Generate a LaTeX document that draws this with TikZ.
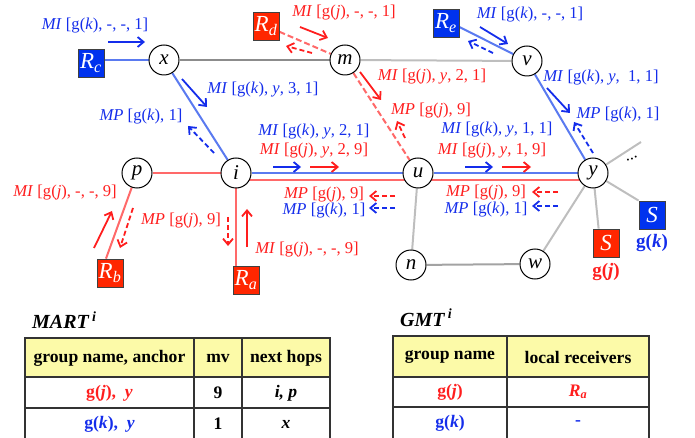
\documentclass[tikz,border=0pt]{standalone}
\usepackage{fontspec}
\setmainfont{Liberation Serif}
\usetikzlibrary{arrows.meta,backgrounds}

\definecolor{rtxt}{RGB}{255,30,30}
\definecolor{btxt}{RGB}{20,45,235}
\definecolor{rfill}{RGB}{255,38,0}
\definecolor{bfill}{RGB}{0,50,238}
\definecolor{rline}{RGB}{255,105,105}
\definecolor{bline}{RGB}{90,122,240}
\definecolor{gline}{RGB}{140,140,140}
\definecolor{lgline}{RGB}{190,190,190}
\definecolor{thead}{RGB}{252,250,168}

\tikzset{
  vtx/.style={circle, draw=black, fill=white, line width=1pt, minimum size=30pt,
    inner sep=0pt, font=\fontsize{21}{21}\selectfont\itshape},
  sq/.style={draw=black!75, line width=0.8pt, minimum width=26pt, minimum height=28pt,
    inner sep=0pt, text=white, font=\fontsize{23}{23}\selectfont\itshape},
  rsq/.style={sq, fill=rfill},
  bsq/.style={sq, fill=bfill},
  lbl/.style={inner sep=0pt, font=\fontsize{16.6}{16.6}\selectfont},
  rl/.style={lbl, text=rtxt},
  bl/.style={lbl, text=btxt},
  edge/.style={line width=2pt},
  mi/.style={line width=1.8pt, -{Straight Barb[length=6pt,width=10pt,line width=1.8pt]}},
  mp/.style={mi, dash pattern=on 5pt off 3pt},
  cell/.style={inner sep=0pt, font=\fontsize{17.6}{17.6}\selectfont\bfseries},
  ttl/.style={inner sep=0pt, font=\fontsize{20}{20}\selectfont\bfseries\itshape},
  tbl/.style={draw=black!80, line width=1.2pt},
  grp/.style={inner sep=0pt, font=\fontsize{19}{19}\selectfont\bfseries},
}

\begin{document}
\begin{tikzpicture}[x=1pt, y=-1pt]
\useasboundingbox (0,0) rectangle (695,438);

% routers
\node[vtx] (x) at (164,60) {x};
\node[vtx] (m) at (345,60) {m};
\node[vtx] (v) at (527,61) {v};
\node[vtx] (p) at (137,173) {p};
\node[vtx] (i) at (236,173) {i};
\node[vtx] (u) at (418,173) {u};
\node[vtx] (y) at (593,173) {y};
\node[vtx] (n) at (411,265) {n};
\node[vtx] (w) at (535,264) {w};

% receivers and sources
\node[bsq] (Rc) at (91,63) {R\textsubscript{c}};
\node[rsq] (Rd) at (266,26) {R\textsubscript{d}};
\node[bsq] (Re) at (446,23) {R\textsubscript{e}};
\node[rsq] (Rb) at (110,273) {R\textsubscript{b}};
\node[rsq] (Ra) at (246,280) {R\textsubscript{a}};
\node[rsq] (Sj) at (606,243) {S};
\node[bsq] (Sk) at (652,215) {S};
\node[grp, text=rtxt] (gj) at (606,272) {g(\textit{j})};
\node[grp, text=btxt] (gk) at (652,243) {g(\textit{k})};
\coordinate (more) at (641,142);
\node[lbl, rotate=20] (dots) at (632,159) {...};

% links
\begin{scope}[on background layer]
  \draw[edge, gline] (x) -- (m);
  \draw[edge, lgline] (m) -- (v);
  \draw[edge, lgline] (u) -- (n);
  \draw[edge, gline!80] (n) -- (w);
  \draw[edge, lgline] (w) -- (y);
  \draw[edge, lgline] (y) -- ([xshift=6pt]Sj.north west);
  \draw[edge, lgline] (y) -- (Sk.north west);
  \draw[edge, lgline] (y) -- (more);
  \draw[edge, bline] (Rc.east |- x) -- (x);
  \draw[edge, bline] (x) -- (i);
  \draw[edge, bline] ([yshift=-4pt]Re.east) -- (v);
  \draw[edge, bline] (v) -- (y);
  \draw[edge, rline] (p) -- (i);
  \draw[edge, rline] ([xshift=-4pt]Rb.north) -- (p);
  \draw[edge, rline] (i) -- (i |- Ra.north);
  \draw[edge, rline] ([yshift=-7pt]i.center) -- ([yshift=-7pt]y.center);
  \draw[edge, bline] (i) -- (u);
  \draw[edge, bline] (u) -- (y);
  \draw[edge, rline, dash pattern=on 6pt off 3pt] (Rd) -- (m);
  \draw[edge, rline, dash pattern=on 6pt off 3pt] (m) -- (u);
\end{scope}

% messages of group g(k)
\node[bl] (l1) at (95,26) {\textit{MI} [g(\textit{k}), -, -, 1]};
\draw[mi, btxt] (108,42) -- (145,42);
\node[bl] (l2) at (263,90) {\textit{MI} [g(\textit{k}), \textit{y}, 3, 1]};
\draw[mi, btxt] (182,79) -- (207,107);
\node[bl] (l3) at (141,117) {\textit{MP} [g(\textit{k}), 1]};
\draw[mp, btxt] (214,153) -- (188,126);
\node[bl] (l4) at (530,15) {\textit{MI} [g(\textit{k}), -, -, 1]};
\draw[mi, btxt] (480,27) -- (508,44);
\draw[mp, btxt] (493,53) -- (468,41);
\node[bl] (l5) at (601,78) {\textit{MI} [g(\textit{k}), \textit{y}, \ 1, 1]};
\draw[mi, btxt] (547,88) -- (570,113);
\node[bl] (l6) at (618,115) {\textit{MP} [g(\textit{k}), 1]};
\draw[mp, btxt] (593,153) -- (574,122);
\node[bl] (l7) at (314,132) {\textit{MI} [g(\textit{k}), \textit{y}, 2, 1]};
\draw[mi, btxt] (273,167) -- (301,167);
\node[bl] (l8) at (497,130) {\textit{MI} [g(\textit{k}), \textit{y}, 1, 1]};
\draw[mi, btxt] (465,167) -- (493,167);
\node[bl] (l9) at (324,211) {\textit{MP} [g(\textit{k}), 1]};
\draw[mp, btxt] (395,208) -- (369,208);
\node[bl] (l10) at (486,210) {\textit{MP} [g(\textit{k}), 1]};
\draw[mp, btxt] (558,206) -- (532,206);

% messages of group g(j)
\node[rl] (r1) at (344,13) {\textit{MI} [g(\textit{j}), -, -, 1]};
\draw[mi, rtxt] (300,27) -- (328,38);
\draw[mp, rtxt] (312,53) -- (286,46);
\node[rl] (r2) at (432,77) {\textit{MI} [g(\textit{j}), \textit{y}, 2, 1]};
\draw[mi, rtxt] (360,72) -- (381,100);
\node[rl] (r3) at (431,111) {\textit{MP} [g(\textit{j}), 9]};
\draw[mp, rtxt] (405,138) -- (397,121);
\node[rl] (r4) at (314,151) {\textit{MI} [g(\textit{j}), \textit{y}, 2, 9]};
\draw[mi, rtxt] (310,167) -- (339,167);
\node[rl] (r5) at (492,151) {\textit{MI} [g(\textit{j}), \textit{y}, 1, 9]};
\draw[mi, rtxt] (502,167) -- (531,167);
\node[rl] (r6) at (324,195) {\textit{MP} [g(\textit{j}), 9]};
\draw[mp, rtxt] (395,196) -- (369,196);
\node[rl] (r7) at (486,193) {\textit{MP} [g(\textit{j}), 9]};
\draw[mp, rtxt] (558,192) -- (532,192);
\node[rl] (r8) at (65,193) {\textit{MI} [g(\textit{j}), -, -, 9]};
\draw[mi, rtxt] (94,248) -- (112,211);
\draw[mp, rtxt] (133,208) -- (120,248);
\node[rl] (r9) at (181,221) {\textit{MP} [g(\textit{j}), 9]};
\draw[mp, rtxt] (228,217) -- (228,246);
\draw[mi, rtxt] (247,247) -- (247,209);
\node[rl] (r10) at (307,250) {\textit{MI} [g(\textit{j}), -, -, 9]};

% forwarding table of router i
\node[ttl, anchor=west] (mart) at (32,320) {MART\,\textsuperscript{\fontsize{14}{14}\selectfont i}};
\fill[thead] (25,338) rectangle (330,377);
\draw[tbl] (25,441) -- (25,338) -- (330,338) -- (330,441);
\draw[tbl] (25,377) -- (330,377);
\draw[tbl] (25,408) -- (330,408);
\draw[tbl] (194,338) -- (194,441);
\draw[tbl] (242,338) -- (242,441);
\node[cell] (h1) at (109.5,358) {group name, anchor};
\node[cell] (h2) at (218,358) {mv};
\node[cell] (h3) at (286,358) {next hops};
\node[cell, text=rtxt] (c11) at (109.5,393) {g(\textit{j}), \ \textit{y}};
\node[cell] (c12) at (218,393) {9};
\node[cell] (c13) at (286,393) {\textit{i, p}};
\node[cell, text=btxt] (c21) at (109.5,424) {g(\textit{k}), \ \textit{y}};
\node[cell] (c22) at (218,424) {1};
\node[cell] (c23) at (286,424) {\textit{x}};

% group membership table of router i
\node[ttl, anchor=west] (gmt) at (400,318) {GMT\,\textsuperscript{\fontsize{14}{14}\selectfont i}};
\fill[thead] (393,336) rectangle (649,377);
\draw[tbl] (393,441) -- (393,336) -- (649,336) -- (649,441);
\draw[tbl] (393,377) -- (649,377);
\draw[tbl] (393,407) -- (649,407);
\draw[tbl] (507,336) -- (507,441);
\node[cell] (g1) at (450,357) {group name};
\node[cell] (g2) at (578,357) {local receivers};
\node[cell, text=rtxt] (d11) at (450,392) {g(\textit{j})};
\node[cell, text=rtxt] (d12) at (578,392) {\textit{R\textsubscript{a}}};
\node[cell, text=btxt] (d21) at (450,423) {g(\textit{k})};
\node[cell, text=btxt] (d22) at (578,423) {-};
\end{tikzpicture}
\end{document}
